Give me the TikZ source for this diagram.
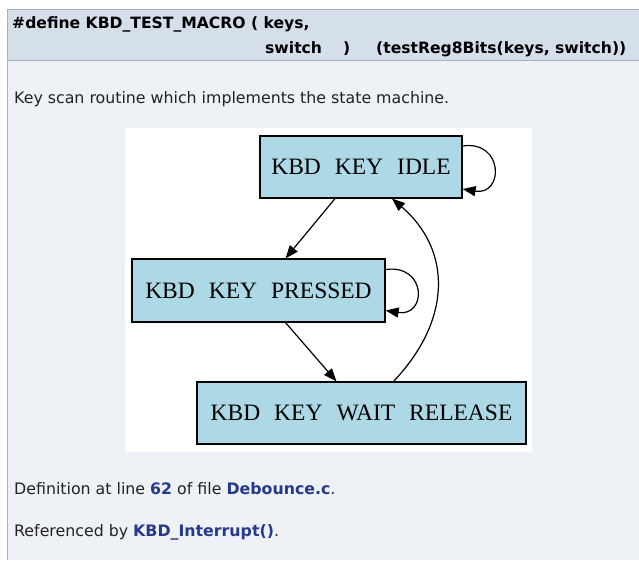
\documentclass[tikz,border=0pt]{standalone}
\usepackage{fontspec}
\setmainfont{DejaVu Sans}
\newfontfamily\gvfont{Liberation Serif}
\usetikzlibrary{arrows.meta,calc}
\definecolor{hdrbg}{RGB}{212,223,234}
\definecolor{bodybg}{RGB}{238,242,246}
\definecolor{frame}{RGB}{162,178,194}
\definecolor{txt}{RGB}{34,34,34}
\definecolor{lnk}{RGB}{38,58,138}
\definecolor{gvblue}{RGB}{173,216,230}
\tikzset{
  state/.style={draw=black,line width=1.2pt,fill=gvblue,inner sep=0pt,font=\gvfont\fontsize{23.5}{27}\selectfont,text=black},
  tr/.style={draw=black,line width=1.2pt,-{Triangle[length=13pt,width=10pt]}},
  body/.style={anchor=base west,inner sep=0pt,text=txt,font=\fontsize{15.8}{18}\selectfont},
  head/.style={anchor=base west,inner sep=0pt,text=black,font=\bfseries\fontsize{15.6}{19}\selectfont},
}
\newcommand{\gap}{\hspace{14pt}}
\begin{document}
\begin{tikzpicture}[x=1pt,y=-1pt]
\useasboundingbox (0,0) rectangle (639,560);
\fill[white] (0,0) rectangle (639,560);
% body area
\fill[bodybg] (7,60) rectangle (639,560);
\fill[hdrbg] (7,9) rectangle (639,60);
\draw[frame,line width=1pt] (639,9) -- (7,9) -- (7,560);
\draw[frame,line width=1pt] (7,60) -- (639,60);
% header
\node[head] (h1) at (12,28) {\#define KBD\_TEST\_MACRO ( keys,};
\node[head] (h2) at (265,53) {switch};
\node[head] (h3) at (343,53) {)};
\node[head] (h4) at (376,53) {(testReg8Bits(keys, switch))};
% description
\node[body] (desc) at (14,103) {Key scan routine which implements the state machine.};
% diagram
\fill[white] (125,128) rectangle (532,452);
\node[state,minimum width=202pt,minimum height=62pt] (idle) at (361,167) {KBD\gap KEY\gap IDLE};
\node[state,minimum width=253pt,minimum height=63pt] (pressed) at (258.5,290.5) {KBD\gap KEY\gap PRESSED};
\node[state,minimum width=329pt,minimum height=62pt] (wait) at (361.5,413) {KBD\gap KEY\gap WAIT\gap RELEASE};
\draw[tr] ([xshift=-26pt]idle.south) -- ([xshift=27pt]pressed.north);
\draw[tr] ([xshift=27pt]pressed.south) -- ([xshift=-25pt]wait.north);
\draw[tr] ([xshift=32pt]wait.north) .. controls (452,320) and (452,250) .. ([xshift=31pt]idle.south);
\draw[tr] ([yshift=21pt]idle.east) .. controls (504,140) and (504,196) .. ([yshift=-22pt]idle.east);
\draw[tr] ([yshift=21pt]pressed.east) .. controls (427,264) and (427,317) .. ([yshift=-20pt]pressed.east);
% footer
\node[body] (def) at (14,494) {Definition at line \textcolor{lnk}{\bfseries 62} of file \textcolor{lnk}{\bfseries Debounce.c}.};
\node[body] (ref) at (14,536) {Referenced by \textcolor{lnk}{\bfseries KBD\_Interrupt()}.};
\end{tikzpicture}
\end{document}
